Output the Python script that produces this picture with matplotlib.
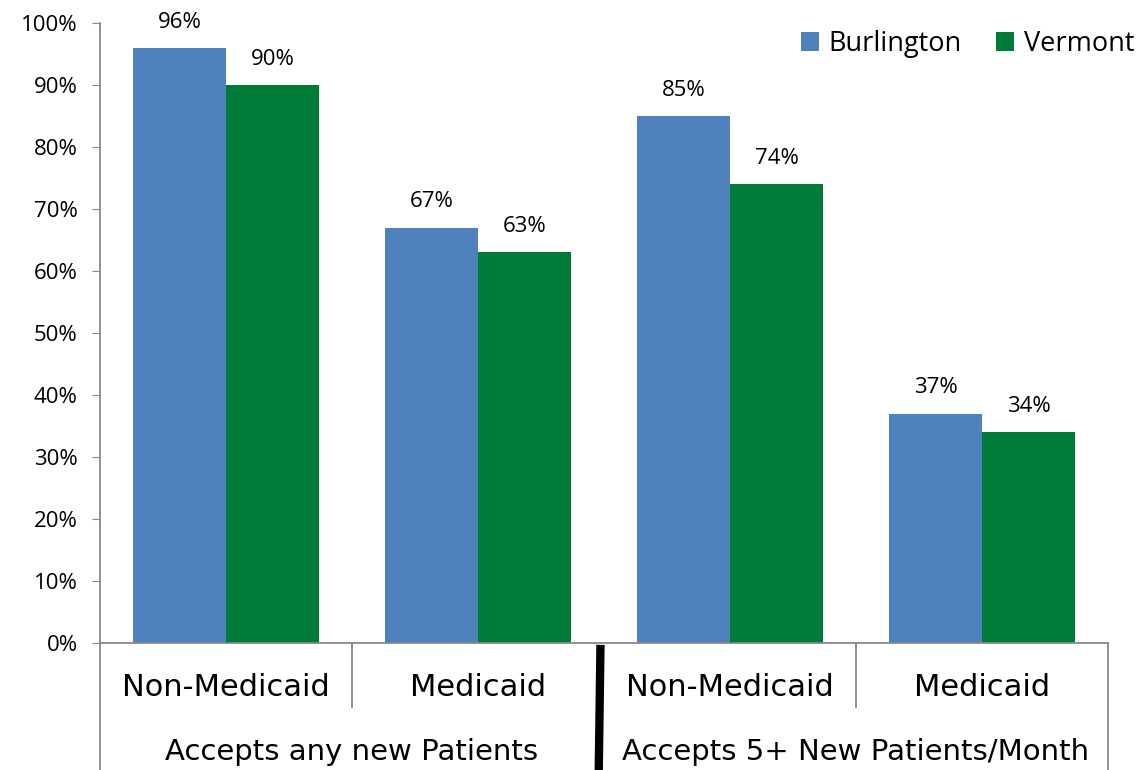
import numpy as np
import matplotlib.pyplot as plt
from matplotlib.ticker import PercentFormatter
from matplotlib.transforms import blended_transform_factory

categories = ['Non-Medicaid', 'Medicaid', 'Non-Medicaid', 'Medicaid']
groups = ['Accepts any new Patients', 'Accepts 5+ New Patients/Month']
burlington = [0.96, 0.67, 0.85, 0.37]
vermont = [0.90, 0.63, 0.74, 0.34]

blue = '#4F81BD'
green = '#007A37'
gray = '#888888'

fig = plt.figure(figsize=(11.42, 7.7), dpi=100)
ax = fig.add_axes([100 / 1142, 127 / 770, 1008 / 1142, 620 / 770])

x = np.arange(len(categories))
w = 0.369
b1 = ax.bar(x - w / 2, burlington, w, color=blue, label='Burlington')
b2 = ax.bar(x + w / 2, vermont, w, color=green, label='Vermont')

for bars, vals in [(b1, burlington), (b2, vermont)]:
    for rect, v in zip(bars, vals):
        ax.annotate(f'{v * 100:.0f}%', (rect.get_x() + rect.get_width() / 2, v),
                    xytext=(0, 11), textcoords='offset points', ha='center', va='bottom',
                    fontsize=16, family='Open Sans')

ax.set_xlim(-0.5, 3.5)
ax.set_ylim(0, 1)
ax.set_yticks(np.linspace(0, 1, 11))
ax.yaxis.set_major_formatter(PercentFormatter(1.0, decimals=0))
ax.tick_params(axis='y', direction='out', length=6, color=gray, labelsize=16, pad=10)
for lab in ax.get_yticklabels():
    lab.set_family('Open Sans')
ax.set_xticks([])
for s in ['top', 'right']:
    ax.spines[s].set_visible(False)
ax.spines['left'].set_color(gray)
ax.spines['bottom'].set_color(gray)
ax.spines['left'].set_linewidth(1.3)
ax.spines['bottom'].set_linewidth(1.3)

# two level category axis
tr = blended_transform_factory(ax.transData, ax.transAxes)
for xi in [0.5, 2.5]:
    ax.plot([xi, xi], [0, -0.103], color=gray, lw=1.3, transform=tr, clip_on=False)
for xi in [-0.5, 3.5]:
    ax.plot([xi, xi], [0, -0.21], color=gray, lw=1.3, transform=tr, clip_on=False)
for xi, c in zip(x, categories):
    ax.text(xi, -0.072, c, transform=tr, ha='center', va='center', fontsize=22,
            family='DejaVu Sans')
for xi, g in zip([0.5, 2.5], groups):
    ax.text(xi, -0.176, g, transform=tr, ha='center', va='center', fontsize=21,
            family='DejaVu Sans')

# thick divider between the two groups
ax.plot([1.486, 1.479], [-0.003, -0.21], color='black', lw=6, transform=tr,
        clip_on=False, solid_capstyle='butt')

leg = ax.legend(loc='upper right', bbox_to_anchor=(1.05, 1.028), ncol=2, frameon=False,
                prop={'family': 'Open Sans', 'size': 19.5}, handlelength=0.65,
                handleheight=0.65, handletextpad=0.35, columnspacing=1.3)

fig.savefig('out.png', dpi=100)
